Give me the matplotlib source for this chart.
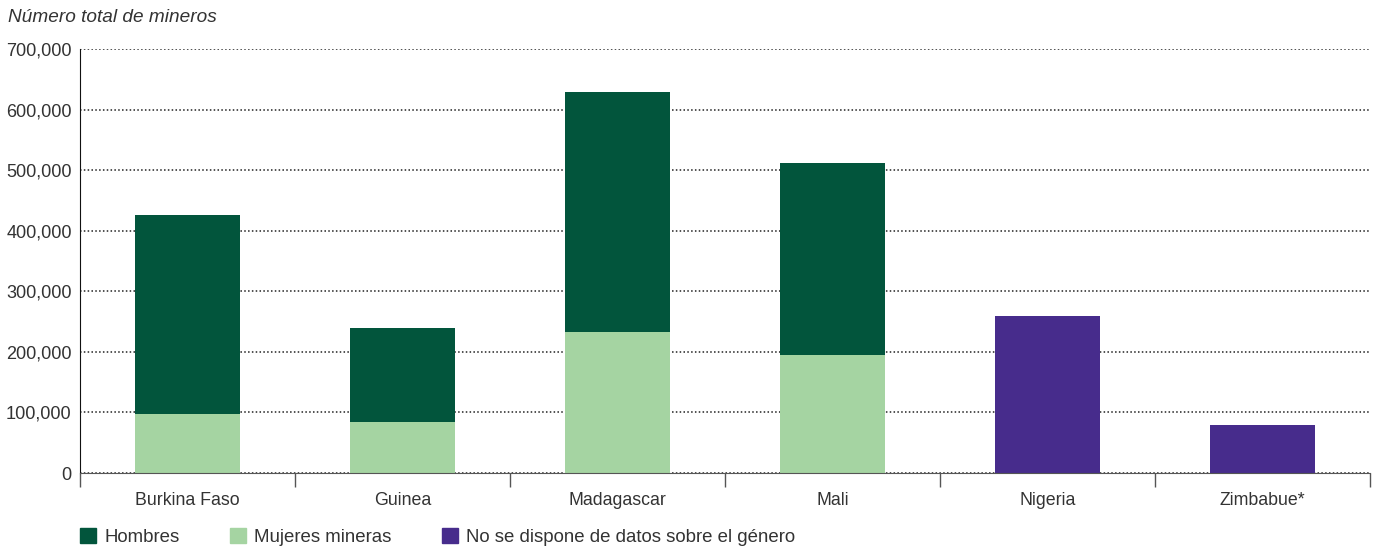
import numpy as np
import matplotlib.pyplot as plt
from matplotlib.patches import Patch
from matplotlib.ticker import FuncFormatter

plt.rcParams["font.family"] = ["Liberation Sans", "DejaVu Sans"]

countries = ["Burkina Faso", "Guinea", "Madagascar", "Mali", "Nigeria", "Zimbabue*"]
mujeres = [98000, 84000, 233000, 195000, 0, 0]
hombres = [328000, 155000, 396000, 317000, 0, 0]
sin_datos = [0, 0, 0, 0, 259000, 79000]

C_HOMBRES = "#02553c"
C_MUJERES = "#a5d4a2"
C_SIN = "#472c8c"
TXT = "#333333"

fig = plt.figure(figsize=(13.81, 5.51), dpi=100)
ax = fig.add_axes([80 / 1381, 1 - 473 / 551, 1290 / 1381, 424 / 551])

x = np.arange(len(countries))
w = 0.49
ax.bar(x, mujeres, w, color=C_MUJERES, zorder=3)
ax.bar(x, hombres, w, bottom=mujeres, color=C_HOMBRES, zorder=3)
ax.bar(x, sin_datos, w, color=C_SIN, zorder=3)

ax.set_xlim(-0.5, len(countries) - 0.5)
ax.set_ylim(0, 700000)
ax.set_yticks(np.arange(0, 700001, 100000))
ax.yaxis.set_major_formatter(FuncFormatter(lambda v, p: f"{int(v):,}"))
ax.yaxis.grid(True, linestyle=(0, (1, 1.5)), color="#222222", linewidth=1.1, zorder=1)

ax.set_xticks(x)
ax.set_xticklabels(countries)
ax.set_xticks(np.arange(-0.5, len(countries), 1), minor=True)
ax.tick_params(axis="x", which="major", length=0, pad=14, labelsize=12.8, labelcolor=TXT)
ax.tick_params(axis="x", which="minor", length=10, width=1, color="#555555", direction="out")
ax.tick_params(axis="y", length=0, pad=6, labelsize=13.1, labelcolor=TXT)

for s in ["top", "right"]:
    ax.spines[s].set_visible(False)
ax.spines["left"].set_color("#111111")
ax.spines["bottom"].set_color("#555555")
ax.spines["bottom"].set_zorder(4)

fig.text(8 / 1381, 1 - 17 / 551, "Número total de mineros", style="italic",
         fontsize=13.7, color=TXT, va="center", ha="left")

handles = [Patch(color=C_HOMBRES), Patch(color=C_MUJERES), Patch(color=C_SIN)]
labels = ["Hombres", "Mujeres mineras", "No se dispone de datos sobre el género"]
fig.legend(handles, labels, loc="center left", bbox_to_anchor=(63 / 1381, 1 - 537 / 551),
           ncol=3, frameon=False, handlelength=0.86, handleheight=0.9, handletextpad=0.45,
           columnspacing=2.7, fontsize=13.4, labelcolor=TXT)

fig.savefig("out.png", dpi=100)
